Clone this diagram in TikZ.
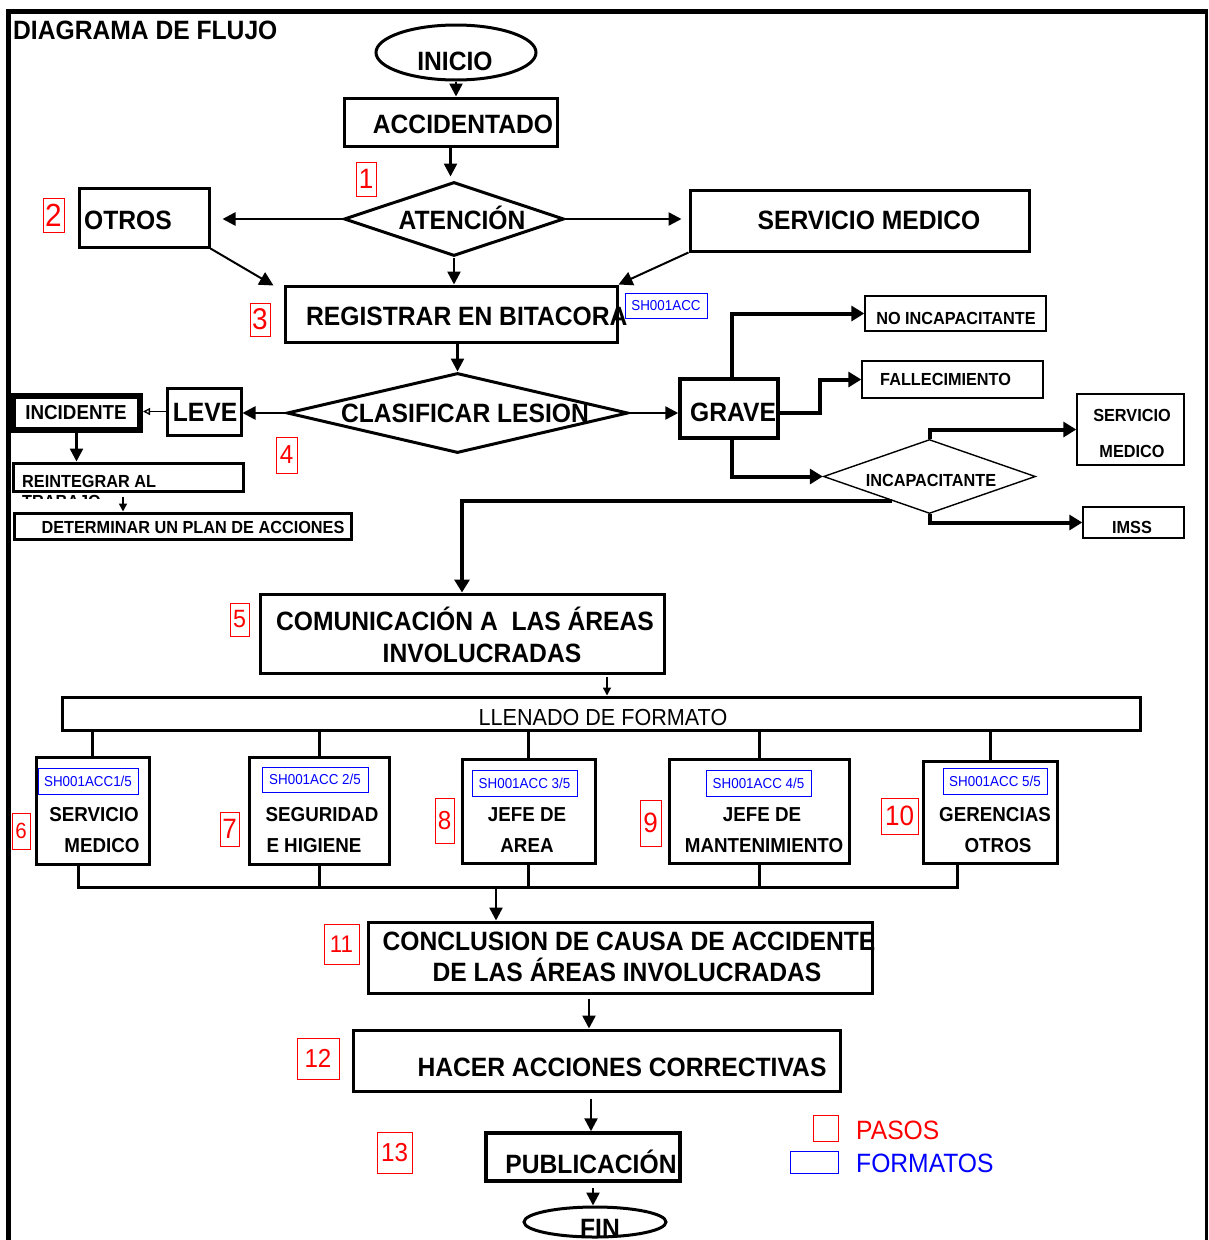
\documentclass[tikz,border=0pt]{standalone}
\usepackage{fontspec}
\setmainfont{Liberation Sans}[FakeStretch=0.93]
\usetikzlibrary{arrows.meta,shapes.geometric,fit,calc}

% red numbered step marker: name, digit, x1, y1, x2, y2, font size
\newcommand\stepmark[7]{%
  \node[stepno, fit={(#3,#4)(#5,#6)}] (#1) {};
  \node[num, font=\fontsize{#7}{#7}\selectfont] (#1t) at (#1) {#2};}
% blue form reference: name, x1, y1, x2, y2, code
\newcommand\refbox[6]{%
  \node[formref, fit={(#2,#3)(#4,#5)}] (#1) {};
  \node[code] (#1t) at (#1) {#6};}

\begin{document}
\begin{tikzpicture}[x=1pt,y=-1pt,
  box/.style={draw, line width=3pt, inner sep=0pt},
  thinbox/.style={draw, line width=1.4pt, inner sep=0pt},
  stepno/.style={draw=red, line width=0.9pt, inner sep=0pt},
  formref/.style={draw=blue, line width=0.9pt, inner sep=0pt},
  lbl/.style={inner sep=0pt, anchor=base},
  lbll/.style={inner sep=0pt, anchor=base west},
  big/.style={font=\bfseries\fontsize{26.5}{31}\selectfont},
  mid/.style={font=\bfseries\fontsize{20.2}{24}\selectfont},
  sml/.style={font=\bfseries\fontsize{17.5}{20}\selectfont},
  code/.style={inner sep=0pt, text=blue, font=\fontsize{14.4}{16}\selectfont},
  num/.style={inner sep=0pt, text=red},
  arr/.style={line width=2.5pt, -{Triangle[length=13pt,width=13pt]}},
  fat/.style={line width=4pt, -{Triangle[length=13pt,width=15pt]}},
  fine/.style={line width=1.5pt, -{Triangle[length=8pt,width=8pt]}},
  bus/.style={line width=3pt},
]
\useasboundingbox (0,0) rectangle (1209,1240);
\fill[white] (0,0) rectangle (1209,1240);

% page frame
\draw[line width=4.5pt, line join=miter] (8.5,1245) -- (8.5,11.5) -- (1206.5,11.5);
\draw[line width=3.5pt] (1206.5,9.25) -- (1206.5,1245);
\node[lbll,big] (title) at (13,39) {DIAGRAMA DE FLUJO};

% start
\node[ellipse, draw, line width=3pt, minimum width=160pt, minimum height=55pt, inner sep=0pt] (ini) at (456,52.5) {};
\node[lbl,big] (tini) at (455,70) {INICIO};

\node[box, fit={(344,98)(557,146)}] (acc) {};
\node[lbl,big] (tacc) at (463,133.5) {ACCIDENTADO};

\node[diamond, draw, line width=3pt, minimum width=220pt, minimum height=74pt, inner sep=0pt] (aten) at (454,219) {};
\node[lbl,big] (taten) at (462,229.5) {ATENCIÓN};

\node[box, fit={(79,188)(209,247)}] (otros) {};
\node[lbll,big] (totros) at (84,229.5) {OTROS};

\node[box, fit={(690,190)(1029,251)}] (sm) {};
\node[lbl,big] (tsm) at (869,229.5) {SERVICIO MEDICO};

\node[box, fit={(285,286)(617,342)}] (reg) {};
\node[lbll,big] (treg) at (306,325.5) {REGISTRAR EN BITACORA};
\refbox{fr0}{625}{293}{707}{318}{SH001ACC}

% classification
\node[diamond, draw, line width=3pt, minimum width=341pt, minimum height=80pt, inner sep=0pt] (clas) at (457.5,413) {};
\node[lbl,big] (tclas) at (465,422) {CLASIFICAR LESION};

\node[box, fit={(167,388)(241,435)}] (leve) {};
\node[lbl,big] (tleve) at (205,421.5) {LEVE};

\node[draw, line width=6pt, inner sep=0pt, fit={(13,396)(140,430)}] (inc) {};
\node[lbl,mid] (tinc) at (76,419.5) {INCIDENTE};

\node[box, fit={(13,463)(243,491)}] (reint) {};
\begin{scope}
  \clip (10,465) rectangle (300,498.5);
  \node[lbll,sml] (treint1) at (22,487) {REINTEGRAR AL};
  \node[lbll,sml] (treint2) at (22,507) {TRABAJO};
\end{scope}

\node[box, fit={(14,513)(351,539)}] (det) {};
\node[lbl,sml] (tdet) at (193,533) {DETERMINAR UN PLAN DE ACCIONES};

\node[box, line width=3.5pt, fit={(680,379)(778,438)}] (grave) {};
\node[lbll,big] (tgrave) at (690,421.5) {GRAVE};

\node[thinbox, fit={(865,296)(1046,331)}] (noinc) {};
\node[lbl,sml] (tnoinc) at (956,324) {NO INCAPACITANTE};

\node[thinbox, fit={(862,361)(1043,398)}] (fall) {};
\node[lbll,sml] (tfall) at (880,385.5) {FALLECIMIENTO};

\node[diamond, draw, line width=1.4pt, minimum width=212pt, minimum height=74pt, inner sep=0pt] (incap) at (929.5,476.5) {};
\node[lbl,sml] (tincap) at (931,486) {INCAPACITANTE};

\node[thinbox, fit={(1077,394)(1184,465)}] (smr) {};
\node[lbl,sml] (tsmr1) at (1132,421) {SERVICIO};
\node[lbl,sml] (tsmr2) at (1132,457) {MEDICO};

\node[thinbox, fit={(1083,507)(1184,538)}] (imss) {};
\node[lbl,sml] (timss) at (1132,533) {IMSS};

% communication and forms
\node[box, fit={(260,594)(664,673)}] (com) {};
\node[lbl,big] (tcom1) at (465,630) {COMUNICACIÓN A \ LAS ÁREAS};
\node[lbl,big] (tcom2) at (482,662) {INVOLUCRADAS};

\node[box, fit={(62,697)(1140,730)}] (llen) {};
\node[lbl, font=\fontsize{23.2}{26}\selectfont] (tllen) at (603,725) {LLENADO DE FORMATO};

\node[box, fit={(36,757)(149,864)}] (fa) {};
\refbox{ra}{38}{768}{138}{794}{SH001ACC1/5}
\node[lbl,mid] (ta1) at (94,821.5) {SERVICIO};
\node[lbl,mid] (ta2) at (102,852.5) {MEDICO};

\node[box, fit={(249,757)(389,864)}] (fb) {};
\refbox{rb}{262}{767}{368}{792}{SH001ACC 2/5}
\node[lbl,mid] (tb1) at (322,821.5) {SEGURIDAD};
\node[lbl,mid] (tb2) at (314,852.5) {E HIGIENE};

\node[box, fit={(462,759)(595,863)}] (fc) {};
\refbox{rc}{472}{770}{577}{796}{SH001ACC 3/5}
\node[lbl,mid] (tc1) at (527,821.5) {JEFE DE};
\node[lbl,mid] (tc2) at (527,852.5) {AREA};

\node[box, fit={(669,759)(849,863)}] (fd) {};
\refbox{rd}{706}{770}{811}{796}{SH001ACC 4/5}
\node[lbl,mid] (td1) at (762,821.5) {JEFE DE};
\node[lbl,mid] (td2) at (764,852.5) {MANTENIMIENTO};

\node[box, fit={(923,761)(1057,863)}] (fe) {};
\refbox{re}{943}{768}{1047}{794}{SH001ACC 5/5}
\node[lbl,mid] (te1) at (995,821.5) {GERENCIAS};
\node[lbl,mid] (te2) at (998,852.5) {OTROS};

% closing steps
\node[box, fit={(368,922)(872,993)}] (conc) {};
\node[lbl,big] (tconc1) at (629,950.5) {CONCLUSION DE CAUSA DE ACCIDENTE};
\node[lbl,big] (tconc2) at (627,981.5) {DE LAS ÁREAS INVOLUCRADAS};

\node[box, fit={(353,1030)(840,1091)}] (hacer) {};
\node[lbl,big] (thacer) at (622,1076.5) {HACER ACCIONES CORRECTIVAS};

\node[box, line width=3.5pt, fit={(486,1133)(680,1181)}] (pub) {};
\node[lbl,big] (tpub) at (591,1173.5) {PUBLICACIÓN};

\node[ellipse, draw, line width=3pt, minimum width=142pt, minimum height=30pt, inner sep=0pt] (fin) at (595,1222) {};
\node[lbl,big] (tfin) at (600,1237) {FIN};

% step numbers
\stepmark{s1}{1}{356}{162}{376}{196}{28}
\stepmark{s2}{2}{43}{198}{64}{232}{32}
\stepmark{s3}{3}{250}{303}{270}{336}{30}
\stepmark{s4}{4}{276}{437}{297}{473}{26}
\stepmark{s5}{5}{230}{603}{249}{636}{25}
\stepmark{s6}{6}{12}{813}{30}{849}{22}
\stepmark{s7}{7}{220}{812}{239}{846}{28}
\stepmark{s8}{8}{435}{798}{454}{843}{26}
\stepmark{s9}{9}{640}{800}{661}{846}{28}
\stepmark{s10}{10}{881}{798}{918}{834}{28}
\stepmark{s11}{11}{324}{924}{359}{964}{24}
\stepmark{s12}{12}{297}{1038}{339}{1079}{26}
\stepmark{s13}{13}{377}{1132}{412}{1173}{26}

% legend
\node[stepno, fit={(813,1115)(838,1141)}] (legp) {};
\node[lbll, text=red, font=\fontsize{26.5}{30}\selectfont] (tlegp) at (856,1139.5) {PASOS};
\node[formref, fit={(790,1151)(838,1173)}] (legf) {};
\node[lbll, text=blue, font=\fontsize{26.5}{30}\selectfont] (tlegf) at (856,1172.5) {FORMATOS};

% connectors
\draw[arr] (ini.south) -- (ini.south |- acc.north);
\draw[arr, shorten >=4pt] (acc.south) -- (acc.south |- aten.north);
\draw[arr, shorten >=12pt] (aten.west) -- (aten.west -| otros.east);
\draw[arr, shorten >=7pt] (aten.east) -- (aten.east -| sm.west);
\draw[arr] (aten.south) -- (aten.south |- reg.north);
\draw[line width=2pt, -{Triangle[length=14pt,width=14pt]}] (otros.south east) -- ($(reg.north west)+(-10,1)$);
\draw[line width=2pt, -{Triangle[length=14pt,width=14pt]}] (sm.south west) -- (reg.north east);
\draw[arr] (clas.north |- reg.south) -- (clas.north);
\draw[arr] (clas.west) -- (clas.west -| leve.east);
\draw[line width=1.3pt, -{Triangle[open,length=7pt,width=7pt]}] (leve.west) -- (leve.west -| inc.east);
\draw[arr] (inc.south) -- (inc.south |- reint.north);
\draw[fine] ($(reint.south)+(-5,4)$) -- ($(det.north)+(-59.5,0)$);
\draw[arr] (clas.east) -- (clas.east -| grave.west);
\draw[fat] ([xshift=3pt]grave.north) |- (noinc.west);
\draw[fat] ([yshift=-4pt]grave.east) -- ++(40,0) |- (fall.west);
\draw[fat] ([xshift=3pt]grave.south) |- (incap.west);
\draw[fat] (incap.north) |- (smr.west);
\draw[fat] (incap.south) |- (imss.west);
\draw[fat] ($(incap.west)!0.65!(incap.south)$) -| (com.north);

\coordinate (c5) at (607,677);
\draw[fine] (c5) -- (c5 |- llen.north);

\foreach \f in {fa,fb,fc,fd,fe}
  \draw[bus] (\f.north) -- (\f.north |- llen.south);

\coordinate (busL) at (78,887);
\coordinate (busR) at (957,887);
\coordinate (busM) at (496,887);
\draw[bus] (fa.south -| busL) -- (busL) -- (busR) -- (fe.south -| busR);
\foreach \f in {fb,fc,fd}
  \draw[bus] (\f.south) -- (\f.south |- busL);
\draw[arr] (busM) -- (busM |- conc.north);

\draw[arr] ($(conc.south)+(-31,4)$) -- ($(hacer.north)+(-7.5,0)$);
\draw[arr] ($(hacer.south)+(-5.5,6)$) -- ($(pub.north)+(8,0)$);
\draw[arr] ($(pub.south)+(10,5)$) -- ($(fin.north)+(-2,0)$);
\end{tikzpicture}
\end{document}
